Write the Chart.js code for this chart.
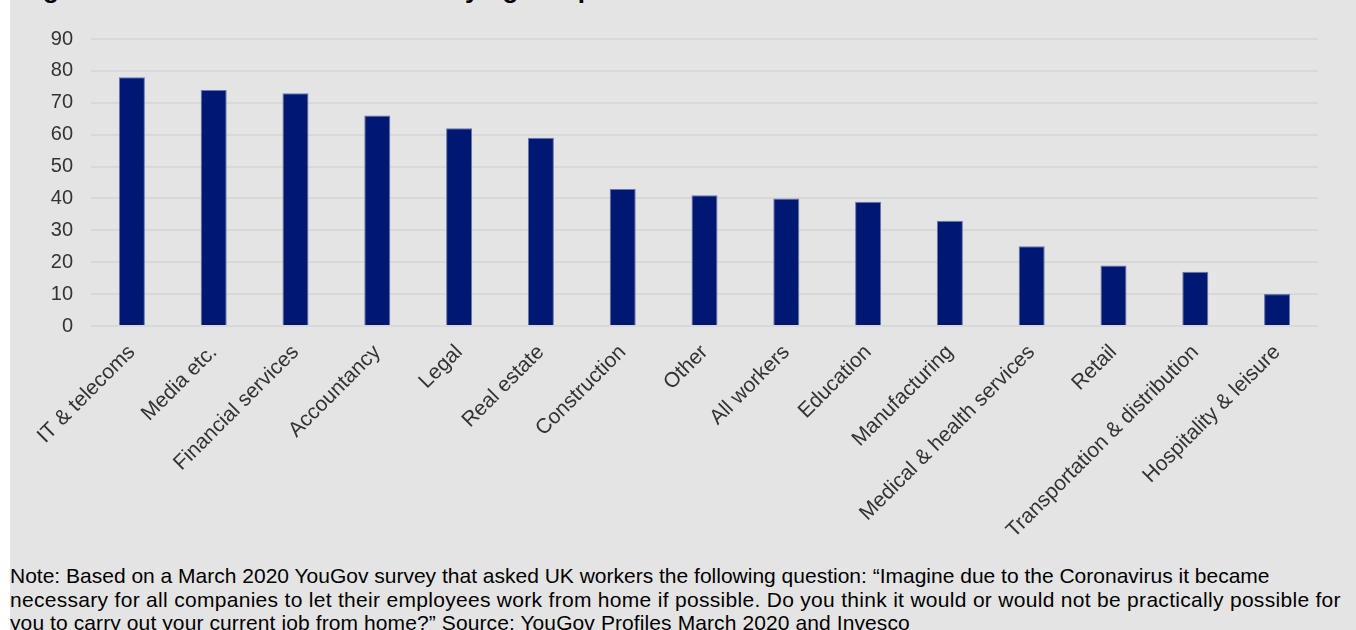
<!DOCTYPE html>
<html>
<head>
<meta charset="utf-8">
<script src="https://cdn.jsdelivr.net/npm/chart.js@4.4.1/dist/chart.umd.min.js"></script>
<style>
  html, body { margin: 0; padding: 0; background: #ffffff; width: 1356px; height: 630px; overflow: hidden; }
  #panel { position: absolute; left: 10px; top: 0; width: 1346px; height: 630px; background: #e4e4e4; overflow: hidden; }
  #title { position: absolute; left: 10px; top: -24px; font: bold 26px "Liberation Sans", Arial, sans-serif; line-height: 26px; color: #000; white-space: nowrap; }
  #chartbox { position: absolute; left: 0; top: 0; width: 1346px; height: 550px; }
  #note { position: absolute; left: 0; top: 564px; font: 21px "Liberation Sans", Arial, sans-serif; line-height: 23.5px; color: #000; white-space: nowrap; }
  #note .l2 { letter-spacing: 0.3px; }
  #note .l3 { letter-spacing: 0.1px; }
</style>
</head>
<body>
<div id="panel">
  <div id="title">Figure 3 – Percent of UK workers saying it is possible to work from home</div>
  <div id="chartbox"><canvas id="c" width="1346" height="550"></canvas></div>
  <div id="note"><span class="l1">Note: Based on a March 2020 YouGov survey that asked UK workers the following question: “Imagine due to the Coronavirus it became</span><br><span class="l2">necessary for all companies to let their employees work from home if possible. Do you think it would or would not be practically possible for</span><br><span class="l3">you to carry out your current job from home?” Source: YouGov Profiles March 2020 and Invesco</span></div>
</div>
<script>
const categories = ["IT & telecoms", "Media etc.", "Financial services", "Accountancy", "Legal", "Real estate", "Construction", "Other", "All workers", "Education", "Manufacturing", "Medical & health services", "Retail", "Transportation & distribution", "Hospitality & leisure"];
const values = [78, 74, 73, 66, 62, 59, 43, 41, 40, 39, 33, 25, 19, 17, 10];
const yTicks = [0, 10, 20, 30, 40, 50, 60, 70, 80, 90];

const FONT = '"Liberation Sans", Arial, sans-serif';
new Chart(document.getElementById('c'), {
  type: 'bar',
  data: {
    labels: categories,
    datasets: [{
      data: values,
      backgroundColor: '#001871',
      borderColor: 'rgba(90,105,170,0.9)',
      borderWidth: 1,
      barPercentage: 0.318,
      categoryPercentage: 1.0
    }]
  },
  options: {
    responsive: false,
    devicePixelRatio: 1,
    animation: false,
    layout: { padding: { top: 39, right: 38, left: 0, bottom: 0 } },
    plugins: { legend: { display: false }, tooltip: { enabled: false }, title: { display: false } },
    scales: {
      x: {
        grid: { display: false },
        border: { display: false },
        ticks: {
          autoSkip: false, minRotation: 45, maxRotation: 45, padding: 6,
          color: '#333333', font: { family: FONT, size: 21 }
        },
        afterFit: s => { s.height = 224; }
      },
      y: {
        min: 0, max: 90,
        afterBuildTicks: s => { s.ticks = yTicks.map(v => ({ value: v })); },
        grid: { color: '#d8d8d8', lineWidth: 2, drawTicks: false },
        border: { display: false },
        ticks: { padding: 18, color: '#333333', font: { family: FONT, size: 20 } },
        afterFit: s => { s.width = 81; }
      }
    }
  }
});
</script>
</body>
</html>
